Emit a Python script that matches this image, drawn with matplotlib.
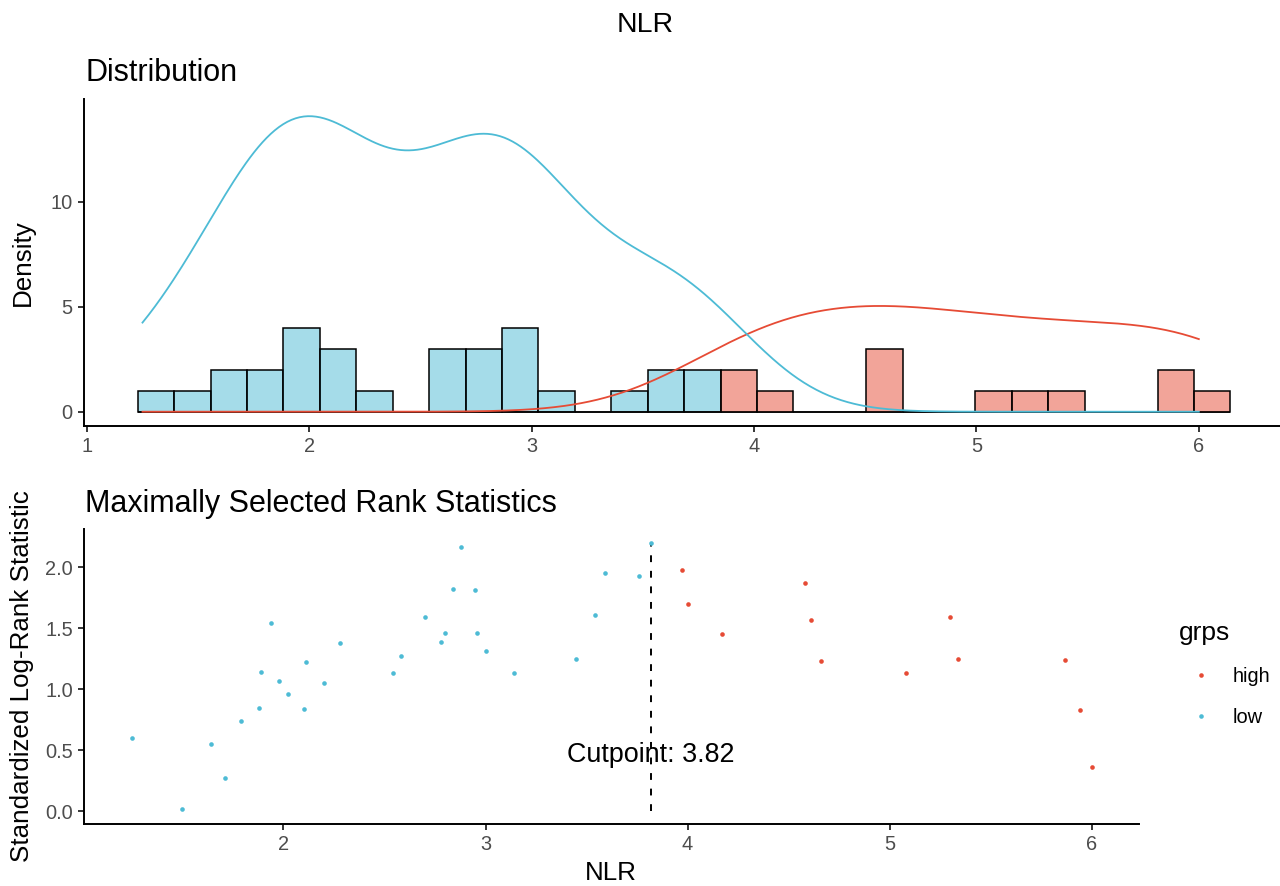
import numpy as np
import matplotlib
matplotlib.use("Agg")
import matplotlib.pyplot as plt
from matplotlib.lines import Line2D

plt.rcParams['font.family'] = ['Liberation Sans', 'DejaVu Sans']

# NLR values and standardized log-rank statistic, split by group
low_x = [1.25, 1.50, 1.64, 1.71, 1.79, 1.88, 1.89, 1.94, 1.98, 2.02,
         2.10, 2.11, 2.20, 2.28, 2.54, 2.58, 2.70, 2.78, 2.80, 2.84,
         2.88, 2.95, 2.96, 3.00, 3.14, 3.45, 3.54, 3.59, 3.76, 3.82]
low_stat = [0.60, 0.02, 0.55, 0.27, 0.74, 0.85, 1.14, 1.54, 1.07, 0.96,
            0.84, 1.22, 1.05, 1.38, 1.13, 1.27, 1.59, 1.39, 1.46, 1.82,
            2.17, 1.81, 1.46, 1.31, 1.13, 1.25, 1.61, 1.95, 1.93, 2.20]
high_x = [3.97, 4.00, 4.17, 4.58, 4.61, 4.66, 5.08, 5.30, 5.34, 5.87, 5.94, 6.00]
high_stat = [1.98, 1.70, 1.45, 1.87, 1.57, 1.23, 1.13, 1.59, 1.25, 1.24, 0.83, 0.36]
cutpoint = 3.82
n_bins = 30

RED = "#E64B35"
BLUE = "#4DBBD5"
GREY = "#4D4D4D"

W, H = 1280, 886


def px_axes(fig, left, top, right, bottom):
    return fig.add_axes([left / W, 1 - bottom / H, (right - left) / W, (bottom - top) / H])


def gg_breaks(vals, bins):
    # same bin layout as ggplot2 geom_histogram(bins=...)
    lo, hi = min(vals), max(vals)
    width = (hi - lo) / (bins - 1)
    boundary = width / 2
    shift = np.floor((lo - boundary) / width)
    origin = boundary + shift * width
    return origin + np.arange(bins + 1) * width


def bw_nrd0(x):
    x = np.asarray(x)
    q75, q25 = np.percentile(x, [75, 25])
    lo = min(np.std(x, ddof=1), (q75 - q25) / 1.34)
    return 0.9 * lo * len(x) ** (-0.2)


def kde_count(x, grid):
    x = np.asarray(x)
    bw = bw_nrd0(x)
    z = (grid[:, None] - x[None, :]) / bw
    return np.exp(-0.5 * z ** 2).sum(axis=1) / (bw * np.sqrt(2 * np.pi))


def style(ax):
    for s in ["top", "right"]:
        ax.spines[s].set_visible(False)
    for s in ["left", "bottom"]:
        ax.spines[s].set_linewidth(1.4)
    ax.tick_params(length=4.2, width=1.1, labelsize=14.4, labelcolor=GREY, pad=3.5)


fig = plt.figure(figsize=(W / 100, H / 100), dpi=100)

# ---- top: distribution ----
ax1 = px_axes(fig, 83.5, 99.3, 1280, 426)
all_x = low_x + high_x
edges = gg_breaks(all_x, n_bins)
ax1.hist(low_x, bins=edges, facecolor=BLUE + "80", edgecolor="black", linewidth=1.1, zorder=2)
ax1.hist(high_x, bins=edges, facecolor=RED + "80", edgecolor="black", linewidth=1.1, zorder=2)
grid = np.linspace(min(all_x), max(all_x), 512)
ax1.plot(grid, kde_count(high_x, grid), color=RED, lw=1.3, zorder=3)
ax1.plot(grid, kde_count(low_x, grid), color=BLUE, lw=1.3, zorder=3)
ax1.set_xlim(0.9847, 6.365)
ax1.set_ylim(-0.68, 14.88)
ax1.set_xticks([1, 2, 3, 4, 5, 6])
ax1.set_yticks([0, 5, 10])
style(ax1)
fig.text(22.5 / W, 1 - 262.6 / H, "Density", fontsize=18.7,
         rotation=90, ha="center", va="center")
fig.text(85 / W, 1 - 80.7 / H, "Distribution", fontsize=22, va="baseline", ha="left")

# ---- bottom: maximally selected rank statistics ----
ax2 = px_axes(fig, 83.5, 529.3, 1139, 824)
ax2.scatter(high_x, high_stat, s=11, color=RED, linewidths=0, zorder=3)
ax2.scatter(low_x, low_stat, s=11, color=BLUE, linewidths=0, zorder=3)
ax2.vlines(cutpoint, 0, max(low_stat + high_stat), colors="black", lw=1.4,
           linestyles=(0, (3.5, 4.5)), zorder=2)
ax2.text(cutpoint, 0.40, "Cutpoint: %.2f" % cutpoint, fontsize=19.4,
         ha="center", va="baseline")
ax2.set_xlim(1.0104, 6.234)
ax2.set_ylim(-0.104, 2.311)
ax2.set_xticks([2, 3, 4, 5, 6])
ax2.set_yticks([0.0, 0.5, 1.0, 1.5, 2.0])
ax2.set_yticklabels(["0.0", "0.5", "1.0", "1.5", "2.0"])
style(ax2)
fig.text(85 / W, 1 - 511.7 / H, "Maximally Selected Rank Statistics", fontsize=22,
         va="baseline", ha="left")
fig.text(22.5 / W, 1 - 676.6 / H, "Standardized Log-Rank Statistic", fontsize=18.7,
         rotation=90, ha="center", va="center")
fig.text(611 / W, 1 - 873 / H, "NLR", fontsize=18.7, ha="center", va="center")

# legend
handles = [Line2D([], [], ls="", marker="o", ms=3.3, color=RED, mew=0),
           Line2D([], [], ls="", marker="o", ms=3.3, color=BLUE, mew=0)]
leg = fig.legend(handles, ["high", "low"], title="grps", loc="upper left",
                 bbox_to_anchor=(1161 / W, 1 - 603 / H), frameon=False,
                 fontsize=14.4, title_fontsize=19, handletextpad=0.55,
                 labelspacing=1.1, handlelength=2.15)
leg._legend_box.align = "left"

fig.text(645 / W, 1 - 25 / H, "NLR", fontsize=20.5, ha="center", va="center")

fig.savefig("out.png", dpi=100)
